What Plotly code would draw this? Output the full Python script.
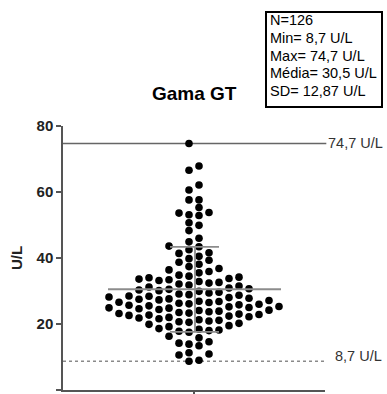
import numpy as np
import plotly.graph_objects as go

# ---------------- data ----------------
title_text = "Gama GT"
unit = "U/L"
lower_values = [8.7, 9.0, 10.6, 10.9, 11.3, 13.4, 13.9, 14.2, 14.6, 15.8, 16.3,
                17.5, 17.8, 18.0, 18.2, 18.4, 18.6]
core_values = [19.2, 19.5, 19.9, 20.2, 20.5, 20.7, 20.9,
               21.1, 21.3, 21.6, 21.8, 22.0, 22.2, 22.4, 22.6, 22.7, 22.9,
               23.0, 23.2, 23.3, 23.5, 23.7, 23.9, 24.1, 24.2, 24.4, 24.6, 24.8, 24.9,
               25.0, 25.2, 25.3, 25.5, 25.7, 25.8, 26.0, 26.1, 26.3, 26.5, 26.6, 26.8, 26.9,
               27.1, 27.3, 27.5, 27.6, 27.8, 28.0, 28.2, 28.4, 28.5, 28.7, 28.9,
               29.1, 29.4, 29.6, 29.9, 30.1, 30.3, 30.5, 30.7, 30.9,
               31.2, 31.5, 31.8, 32.1, 32.4, 32.6, 32.9,
               33.2, 33.4, 33.6, 33.8, 34.0, 34.2, 34.5, 34.8,
               35.5, 35.9, 36.4, 36.8,
               37.4, 38.1, 38.7,
               39.3, 39.8, 40.5,
               41.4, 41.6, 42.5,
               43.4, 43.6, 44.9]
upper_values = [46.0, 48.3, 49.9, 50.7, 52.9, 53.1, 53.6, 53.8, 55.3, 57.6, 57.6,
                60.6, 62.1, 66.6, 67.9, 74.7]
N_COUNT = 126
MIN_V = 8.7
MAX_V = 74.7
MEAN_V = 30.5
SD_V = 12.87
y_ticks = [0, 20, 40, 60, 80]

values = np.array(lower_values + core_values + upper_values, dtype=float)

# ---------------- layout geometry (pixels) ----------------
W, H = 387, 394
L, R, T, B = 63, 62, 126, 4
PW, PH = W - L - R, H - T - B
Y_RANGE = [0, 80]
X_HALF = PW / 2.0          # x data unit == 1 px, centre at 0

def fmt(v, nd=1):
    return f"{v:.{nd}f}".replace(".", ",")

def px_x(px):
    return (px - L) / PW

def px_y(py):
    return (H - B - py) / PH

# ---------------- swarm layout (grid columns, density-adaptive spacing) ----------------
def swarm(vals, d_lo=2.3, d_hi=2.75, step=10.0):
    vals = np.asarray(vals)
    dens = np.array([np.sum(np.abs(vals - v) <= 2.5) for v in vals])
    dmin = d_lo + (d_hi - d_lo) * np.clip((dens - 8) / 10.0, 0, 1)
    order = np.argsort(vals, kind="stable")
    cols = {}
    xs = np.zeros(len(vals))
    for i in order:
        v = vals[i]
        d = dmin[i]
        k = 1
        placed = False
        while not placed:
            for sgn in (-1, 1):
                c = sgn * k
                if all(abs(v - u) >= d for u in cols.get(c, [])):
                    cols.setdefault(c, []).append(v)
                    xs[i] = sgn * (k * step - step / 2)
                    placed = True
                    break
            k += 1
    return xs

xs = swarm(values)

fig = go.Figure()
fig.add_trace(go.Scatter(
    x=xs, y=values, mode="markers",
    marker=dict(size=7.6, color="black", line=dict(width=0)),
    hoverinfo="skip", showlegend=False,
))

shapes = []
shapes.append(dict(type="line", xref="paper", x0=0, x1=1.005, yref="y", y0=MAX_V, y1=MAX_V,
                   line=dict(color="#666666", width=1.3), layer="below"))
shapes.append(dict(type="line", xref="paper", x0=0, x1=1, yref="y", y0=MIN_V, y1=MIN_V,
                   line=dict(color="#8a8a8a", width=1.5, dash="dot"), layer="below"))
shapes.append(dict(type="line", xref="x", x0=-86, x1=87, yref="y", y0=MEAN_V, y1=MEAN_V,
                   line=dict(color="#8c8c8c", width=2)))
shapes.append(dict(type="line", xref="x", x0=1, x1=1, yref="y", y0=MEAN_V - SD_V, y1=MEAN_V + SD_V,
                   line=dict(color="#8c8c8c", width=1.8)))
for yy in (MEAN_V - SD_V, MEAN_V + SD_V):
    shapes.append(dict(type="line", xref="x", x0=-24, x1=25, yref="y", y0=yy, y1=yy,
                       line=dict(color="#8c8c8c", width=1.8)))
shapes.append(dict(type="rect", xref="paper", yref="paper",
                   x0=px_x(266), x1=px_x(382), y0=px_y(107), y1=px_y(12),
                   line=dict(color="black", width=2), fillcolor="white"))

FONT = "Arial, Liberation Sans, sans-serif"
annotations = []
annotations.append(dict(text=f"<b>{title_text}</b>", xref="paper", yref="paper",
                        x=px_x(194), y=px_y(93), xanchor="center", yanchor="middle",
                        showarrow=False, font=dict(family=FONT, size=19, color="black")))
stat_lines = [f"N={N_COUNT}", f"Min= {fmt(MIN_V)} {unit}", f"Max= {fmt(MAX_V)} {unit}",
              f"Média= {fmt(MEAN_V)} {unit}", f"SD= {fmt(SD_V, 2)} {unit}"]
for i, s in enumerate(stat_lines):
    annotations.append(dict(text=s, xref="paper", yref="paper",
                            x=px_x(268), y=px_y(20.5 + 17.6 * i), xanchor="left", yanchor="middle",
                            showarrow=False, font=dict(family=FONT, size=14.5, color="black")))
annotations.append(dict(text=f"{fmt(MAX_V)} {unit}", xref="paper", yref="y",
                        x=px_x(326), y=MAX_V, xanchor="left", yanchor="middle",
                        showarrow=False, font=dict(family=FONT, size=14.5, color="#333333")))
annotations.append(dict(text=f"{fmt(MIN_V)} {unit}", xref="paper", yref="y",
                        x=px_x(333), y=MIN_V, yshift=5, xanchor="left", yanchor="middle",
                        showarrow=False, font=dict(family=FONT, size=14.5, color="#333333")))

fig.update_layout(
    width=W, height=H,
    margin=dict(l=L, r=R, t=T, b=B, autoexpand=False),
    paper_bgcolor="white", plot_bgcolor="white",
    shapes=shapes, annotations=annotations,
    showlegend=False,
    xaxis=dict(range=[-X_HALF, X_HALF], showgrid=False, zeroline=False,
               showline=True, linecolor="#555555", linewidth=1.5,
               ticks="outside", tickvals=[0], ticktext=[""], ticklen=5,
               tickcolor="#555555", tickwidth=1.5, fixedrange=True),
    yaxis=dict(range=Y_RANGE, showgrid=False, zeroline=False,
               showline=True, linecolor="#555555", linewidth=1.5,
               ticks="outside", tickvals=y_ticks, ticklen=5,
               tickcolor="#555555", tickwidth=1.5,
               tickfont=dict(family=FONT, size=15, color="#222222", weight="bold"),
               title=dict(text=f"<b>{unit}</b>", standoff=10,
                          font=dict(family=FONT, size=15, color="#222222")),
               automargin=False, fixedrange=True),
)

fig.write_html("out.html")
